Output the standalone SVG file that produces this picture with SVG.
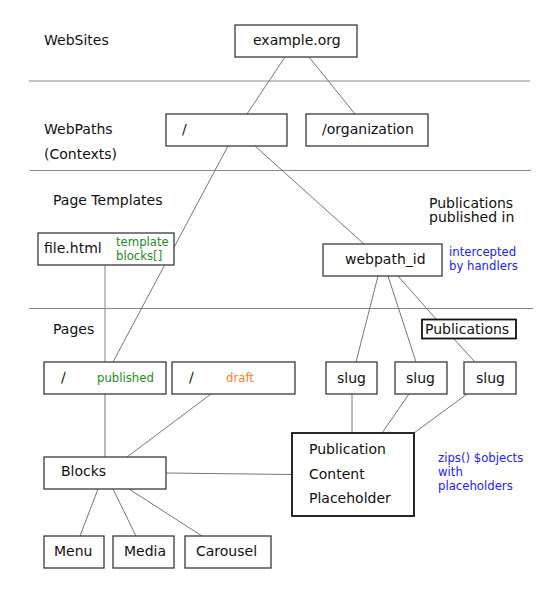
<svg xmlns="http://www.w3.org/2000/svg" width="558" height="597" viewBox="0 0 558 597">
<style>
text{font-family:"DejaVu Sans","Liberation Sans",sans-serif;fill:#111}
.t{font-size:14px}
.s{font-size:11.7px}
.g{fill:#1e8c1e}
.o{fill:#ff7f27}
.b{fill:#2222ff}
.box{fill:#fff;stroke:#3a3a3a;stroke-width:1.3}
.bold{fill:#fff;stroke:#111;stroke-width:1.8}
.sep{stroke:#888;stroke-width:1}
.c{stroke:#666;stroke-width:0.9;fill:none}
.cl{stroke:#999;stroke-width:1.2;fill:none}
</style>
<rect width="558" height="597" fill="#fff"/>
<g id="sections">
<line class="sep" x1="29" y1="81" x2="530" y2="81"/>
<line class="sep" x1="30" y1="170.5" x2="531" y2="170.5"/>
<line class="sep" x1="29" y1="308.5" x2="533" y2="308.5"/>
<text class="t" x="44" y="45">WebSites</text>
<text class="t" x="44" y="134">WebPaths</text>
<text class="t" x="44" y="159">(Contexts)</text>
<text class="t" x="53" y="205">Page Templates</text>
<text class="t" x="53" y="334">Pages</text>
<text class="t" x="429" y="208">Publications</text>
<text class="t" x="429" y="222">published in</text>
<text class="s b" x="449" y="256">intercepted</text>
<text class="s b" x="449" y="270">by handlers</text>
<text class="s b" x="438" y="462">zips() $objects</text>
<text class="s b" x="438" y="476">with</text>
<text class="s b" x="438" y="490">placeholders</text>
</g>
<g id="connectors">
<line class="c" x1="285" y1="57" x2="247" y2="114"/>
<line class="c" x1="309" y1="57" x2="355" y2="114"/>
<line class="c" x1="228" y1="146" x2="113" y2="362"/>
<line class="c" x1="255" y1="146" x2="364" y2="244"/>
<line class="cl" x1="105" y1="265" x2="105" y2="362"/>
<line class="c" x1="378" y1="276" x2="356" y2="362"/>
<line class="c" x1="388" y1="276" x2="416" y2="362"/>
<line class="c" x1="398" y1="276" x2="436" y2="319"/>
<line class="c" x1="454" y1="339" x2="475" y2="362"/>
<line class="c" x1="105" y1="394" x2="105" y2="457"/>
<line class="c" x1="211" y1="394" x2="127" y2="457"/>
<line class="c" x1="352" y1="394" x2="352" y2="433"/>
<line class="c" x1="409" y1="394" x2="382" y2="433"/>
<line class="c" x1="467" y1="394" x2="414" y2="433"/>
<line class="c" x1="166" y1="473" x2="292" y2="474.5"/>
<line class="c" x1="98" y1="489" x2="80" y2="536"/>
<line class="c" x1="113" y1="489" x2="136" y2="536"/>
<line class="c" x1="129" y1="489" x2="202" y2="536"/>
</g>
<g id="n-example">
<rect class="box" x="235" y="25" width="122" height="32"/>
<text class="t" x="253" y="45">example.org</text>
</g>
<g id="n-root">
<rect class="box" x="166" y="114" width="121" height="32"/>
<text class="t" x="182" y="134">/</text>
</g>
<g id="n-organization">
<rect class="box" x="306" y="114" width="122" height="32"/>
<text class="t" x="322" y="134">/organization</text>
</g>
<g id="n-file">
<rect class="box" x="38" y="233" width="136" height="32"/>
<text class="t" x="44" y="253">file.html</text>
<text class="s g" x="116" y="246">template</text>
<text class="s g" x="116" y="260">blocks[]</text>
</g>
<g id="n-webpath">
<rect class="box" x="323" y="244" width="119" height="32"/>
<text class="t" x="345" y="264">webpath_id</text>
</g>
<g id="n-publications">
<rect class="bold" x="422" y="319.5" width="94" height="19"/>
<text class="t" x="425" y="334">Publications</text>
</g>
<g id="n-published">
<rect class="box" x="44" y="362" width="122" height="32"/>
<text class="t" x="61" y="382">/</text>
<text class="s g" x="97" y="382">published</text>
</g>
<g id="n-draft">
<rect class="box" x="172" y="362" width="123" height="32"/>
<text class="t" x="189" y="382">/</text>
<text class="s o" x="226" y="382">draft</text>
</g>
<g id="n-slug1">
<rect class="box" x="326" y="362" width="51" height="32"/>
<text class="t" x="337" y="383">slug</text>
</g>
<g id="n-slug2">
<rect class="box" x="395" y="362" width="52" height="32"/>
<text class="t" x="406" y="383">slug</text>
</g>
<g id="n-slug3">
<rect class="box" x="464" y="362" width="52" height="32"/>
<text class="t" x="476" y="383">slug</text>
</g>
<g id="n-blocks">
<rect class="box" x="44" y="457" width="122" height="32"/>
<text class="t" x="61" y="476">Blocks</text>
</g>
<g id="n-pcp">
<rect class="bold" x="292" y="433" width="122" height="83"/>
<text class="t" x="309" y="454">Publication</text>
<text class="t" x="309" y="479">Content</text>
<text class="t" x="309" y="503">Placeholder</text>
</g>
<g id="n-menu">
<rect class="box" x="44" y="536" width="60" height="32"/>
<text class="t" x="54" y="556">Menu</text>
</g>
<g id="n-media">
<rect class="box" x="113" y="536" width="61" height="32"/>
<text class="t" x="124" y="556">Media</text>
</g>
<g id="n-carousel">
<rect class="box" x="185" y="536" width="86" height="32"/>
<text class="t" x="196" y="556">Carousel</text>
</g>
</svg>
